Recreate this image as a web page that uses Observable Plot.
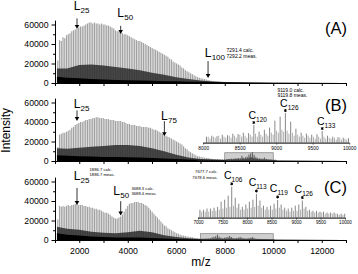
<!DOCTYPE html>
<html><head><meta charset="utf-8">
<script src="https://cdn.jsdelivr.net/npm/d3@7"></script>
<script src="https://cdn.jsdelivr.net/npm/@observablehq/plot@0.6"></script>
<style>
html,body{margin:0;padding:0;background:#fff;}
#chart{position:relative;width:358px;height:274px;overflow:hidden;background:#fff;}
</style></head><body><div id="chart"></div>
<script>
// ---------------- data (intensities in thousands) ----------------
const repeatUnit = 72.06;                 // Da, from the calc. masses of L25 / L50
const refL = {n: 25, mz: 1886.7};         // L-series reference peak
const refC = {n: 126, mz: 9119.0};        // C-series reference peak
const lFirstN = 14;                       // first L peak drawn

const lPeaksA = [23,44,43,47,46,49,50,51,53,54,55,56,57,58,58,59,60,61,62,62,61,62,61,61,60,61,60,60,59,59,58,57,56,54,53,53,52,51,50,50,49,48,47,46,45,44,43,43,42,41,40,39,38,37,36,35,34,33,32,31,30,29,28,27,25,24,22,21,20,19,18,16,15,13,12,11,10,9,8,7,6,5.5,5,4.5,4,3.5,3,2.5,2.2,2,1.8,1.6,1.4,1.2,1.1,1,0.9,0.8,0.7,0.6,0.6,0.5,0.5,0.4,0.4,0.3,0.3];
const lPeaksB = [14,27,28,29,29,30,31,32,34,35,37,38,39,40,40,41,42,42,43,43,44,44,45,45,44,44,44,43,43,43,42,42,42,41,41,41,41,40,40,39,38,38,37,37,37,36,36,36,35,35,35,35,34,34,33,32,32,31,30,29,28,27,26,25,24,23,22,21,20,19,18,17,15,13,12,10,9,8,7,6,5,4.5,4,3.8,3.5,3.2,3,2.6,2.3,2,1.8,1.6,1.4,1.2,1.1,1,0.9,0.8,0.7,0.6,0.6,0.5,0.5,0.4,0.4,0.3,0.3];
const lPeaksC = [21,35,34,35,34,35,36,35,36,36,37,37,36,36,36,35,35,34,34,33,33,32,32,31,31,30,29,28,28,27,26,24,23,22,22,23,24,26,29,32,35,37,38,38,39,39,39,38,38,37,36,35,33,31,29,27,25,23,21,19,17,15,14,12,11,10,9,8,7,6.5,5.5,5,4.5,4,3.7,3.3,3,2.7,2.4,2.1,1.8,1.6,1.4,1.2,1.1,1,0.9,0.8,0.7,0.6,0.6,0.5,0.5,0.4,0.4,0.3,0.3];

const bandMz = [1080,1500,2000,2500,3000,3500,4000,4500,5000,5500,6000,6500,7000,7500,8000,9000,10000,13000];
const darkA  = [15,15,18.5,19,18,16.5,15,13,10.5,8.5,6,4,2.5,1.5,1,0.5,0.3,0];
const blackA = [6.5,5.5,5,4,3.5,3,2.8,2.5,2.2,1.9,1.7,1.4,1.2,1,0.8,0.5,0.3,0.1];
const darkB  = [13,12.5,13.5,14.5,15.5,16.5,16.5,15.5,13,10,6.5,3.5,2,1.5,1,0.8,0.4,0];
const blackB = [6,5.5,5,4.5,4,4,3.8,3.5,3,2.5,2,1.6,1.2,1,0.8,0.6,0.3,0.1];
const darkC  = [13.5,11.5,10.5,8.5,7.5,7,8,9.5,8,5,3,1.8,1,0.8,0.6,0.4,0.3,0];
const blackC = [7,5.5,4.5,3.5,3,2.5,2.5,2.5,2,1.5,1,0.8,0.6,0.5,0.4,0.3,0.2,0.1];

// C series (cyclic) peaks, panel B: n = 95..139 ; minor series n = 111..139
const cFirstNB = 95;
const cPeaksB = [1.2,1.2,1.3,1.3,1.4,1.4,1.5,1.5,1.6,1.6,1.6,1.7,1.7,1.7,1.8,1.8,1.8,2.1,1.95,2.4,2.25,2.7,2.55,3,2.85,5.3,3.3,3.9,4.5,6.6,7.8,8.9,6.3,4.2,3,2.7,2.4,2.55,3.5,2.1,1.8,1.65,1.5,1.35,1.2];
const mFirstNB = 111;
const minor1B = [1.8,1.8,2.1,1.8,2.1,2.1,2.4,2.1,2.4,2.7,2.4,2.7,3,3.6,3.9,3.6,3,2.4,2.1,2.1,1.8,1.8,1.8,1.5,1.5,1.5,1.2,1.2,1.2];
const minor2B = [1.2,1.5,1.2,1.5,1.5,1.5,1.8,1.5,1.8,1.8,1.8,2.1,2.4,3,3.3,2.7,2.1,1.8,1.5,1.5,1.2,1.2,1.2,1.2,0.9,0.9,0.9,0.9,0.9];
// panel C: n = 97..138
const cFirstNC = 97;
const cPeaksC = [1.4,1.4,1.6,1.6,1.75,1.9,2.8,3.15,3.85,5.4,3.5,2.45,1.9,2.3,2.8,3.15,4.15,3,2.1,1.9,2.1,2.45,3.1,2.3,1.75,1.6,1.75,2.1,2.3,3,1.9,1.4,1.2,1.2,1.05,1.05,0.9,0.9,0.9,0.7,0.7,0.7];
const minorC = [1.05,1.05,1.05,1.2,1.2,1.4,1.6,1.75,1.9,2.1,1.75,1.4,1.4,1.6,1.75,1.9,2.1,1.75,1.4,1.4,1.4,1.6,1.75,1.4,1.2,1.05,1.2,1.2,1.4,1.6,1.2,1.05,0.9,0.9,0.9,0.7,0.7,0.7,0.7,0.5,0.5,0.5];

const xTicks = [1000,2000,3000,4000,5000,6000,7000,8000,9000,10000,11000,12000,13000];
const xLabeled = [2000,4000,6000,8000,10000,12000];
const yMajor = [0,20000,40000,60000];
const yMinor = [10000,30000,50000];
const insetTicksB = [8000,8500,9000,9500,10000];
const insetTicksC = [7000,7500,8000,8500,9000,9500,10000];

// ---------------- helpers ----------------
const FONT = '"Liberation Sans", Arial, Helvetica, sans-serif';
const container = document.getElementById("chart");
const lMz = n => refL.mz + (n - refL.n) * repeatUnit;
const cMz = n => refC.mz + (n - refC.n) * repeatUnit;
const K = 1000;

function place(svg, top) {
  svg.style.position = "absolute";
  svg.style.left = "0px";
  svg.style.top = top + "px";
  container.appendChild(svg);
}

const PX = 64000 / 62.4; // intensity per pixel in main panels

function mainPanel(cfg) {
  const peaks = cfg.peaks;
  const lTable = peaks.map((h, i) => ({n: lFirstN + i, mz: lMz(lFirstN + i), h: h * K}));
  const band = bandMz.map((mz, i) => ({mz, dark: cfg.dark[i] * K, black: cfg.black[i] * K}));
  const cyc = [];
  (cfg.cyc || []).forEach(s => s.values.forEach((v, i) => cyc.push({mz: cMz(s.first + i) + s.offset, h: v * K})));
  const ann = cfg.annots.map(a => {
    const h = peaks[a.n - lFirstN] * K;
    return {...a, mz: lMz(a.n), yTip: h + (a.tip + 1.2) * PX, yTop: h + a.top * PX, yHead: h + (a.tip + 1.2) * PX, yText: h + a.text * PX, ySub: h + (a.text - 3) * PX,
      notes: (a.notes || []).map((t, j) => ({t, mz: lMz(a.n), y: h + a.noteY[j] * PX}))};
  });
  const notes = ann.flatMap(a => a.notes.map(d => ({...d, dx: a.noteDx, size: a.noteSize})));
  const marks = [
    cfg.box ? Plot.rect([cfg.box], {x1: "x1", x2: "x2", y1: 0, y2: d => d.top * K, fill: "#cfcfcf", stroke: "#8c8c8c", strokeWidth: 0.8}) : null,
    Plot.ruleX(lTable, {x: "mz", y1: 0, y2: "h", stroke: "#a2a2a2", strokeWidth: 1.2}),
    Plot.areaY(band, {x: "mz", y: "dark", fill: "#262626", fillOpacity: 0.82}),
    Plot.areaY(band, {x: "mz", y: "black", fill: "#000"}),
    Plot.ruleX(cyc, {x: "mz", y1: 0, y2: "h", stroke: "#3a3a3a", strokeWidth: 0.8}),
    Plot.ruleY([0], {stroke: "#000", strokeWidth: 1}),
    Plot.ruleX([1000], {stroke: "#000", strokeWidth: 1}),
    Plot.axisY({ticks: yMajor, tickSize: 3.5, tickPadding: 3.5, fontSize: 8.7, tickFormat: d => String(d), label: null}),
    Plot.axisY({ticks: yMinor, tickSize: 2, tickFormat: () => "", label: null}),
    Plot.axisX({ticks: xTicks, tickSize: 3, tickPadding: 4.5, fontSize: 8.7, label: null,
      tickFormat: cfg.showX ? (d => xLabeled.includes(d) ? String(d) : "") : () => ""}),
    // arrows
    Plot.ruleX(ann, {x: "mz", y1: "yTip", y2: "yTop", stroke: "#000", strokeWidth: 0.8}),
    Plot.dot(ann, {x: "mz", y: "yHead", symbol: "triangle", rotate: 180, r: 1.7, fill: "#000", stroke: "none"}),
    ...ann.map(a => Plot.text([a], {x: "mz", y: "yText", text: () => "L", fontSize: 12, textAnchor: "middle", lineAnchor: "bottom", dx: a.ldx || 0})),
    ...ann.map(a => Plot.text([a], {x: "mz", y: "ySub", text: "label", fontSize: 8, textAnchor: "start", lineAnchor: "bottom", dx: 3.6 + (a.ldx || 0)})),
    ...notes.map(d => Plot.text([d], {x: "mz", y: "y", text: "t", fontSize: d.size, textAnchor: "start", lineAnchor: "bottom", dx: d.dx})),
    Plot.text([cfg.tag], {frameAnchor: "top-right", textAnchor: "end", lineAnchor: "bottom", dy: cfg.tagDy, dx: 0.5, fontSize: 16.5}),
    ...(cfg.extra || [])
  ];
  const svg = Plot.plot({
    width: 358, height: cfg.height,
    marginLeft: 55, marginRight: 12, marginTop: 20.6, marginBottom: cfg.mb,
    x: {domain: [1000, 13000], axis: null, label: null},
    y: {domain: [0, 64000], axis: null, label: null},
    style: {background: "transparent", overflow: "visible", fontFamily: FONT, color: "#000"},
    marks
  });
  place(svg, cfg.top);
}

function inset(cfg) {
  const inRange = d => d.mz >= cfg.domain[0] && d.mz <= cfg.domain[1];
  const series = [];
  cfg.minors.forEach(s => s.values.forEach((v, i) => series.push({mz: cMz(s.first + i) + s.offset, h: v * K})));
  const minors = series.filter(inRange);
  const main = cfg.values.map((v, i) => ({n: cfg.first + i, mz: cMz(cfg.first + i), h: v * K})).filter(inRange);
  const marked = main.filter(d => cfg.marked.includes(d.n)).map(d => ({...d, sub: String(d.n)}));
  const U = cfg.unitPerPx;
  const lab = marked.map(d => ({...d, yStar: d.h + cfg.starDy * U, yC: d.h + cfg.labelDy * U, ySub: d.h + (cfg.labelDy - 3) * U}));
  const noteBase = main.find(d => d.n === cfg.note.n);
  const noteRows = cfg.note.lines.map((t, j) => ({t, mz: noteBase.mz, y: noteBase.h + cfg.note.ys[j] * U}));
  const H = cfg.height - cfg.mb;
  const svg = Plot.plot({
    width: 358, height: cfg.height,
    marginLeft: cfg.ml, marginRight: cfg.mr, marginTop: 0, marginBottom: cfg.mb,
    x: {domain: cfg.domain, axis: null, label: null},
    y: {domain: [0, H * U], axis: null, label: null},
    style: {background: "transparent", overflow: "visible", fontFamily: FONT, color: "#000"},
    marks: [
      Plot.ruleX(minors, {x: "mz", y1: 0, y2: "h", stroke: "#9a9a9a", strokeWidth: 0.8}),
      Plot.ruleX(main, {x: "mz", y1: 0, y2: "h", stroke: "#7a7a7a", strokeWidth: 0.9}),
      Plot.ruleY([0], {stroke: "#333", strokeWidth: 1.2}),
      Plot.axisX({ticks: cfg.ticks, tickSize: 1.8, tickPadding: 1.2, fontSize: cfg.tickFont, tickFormat: d => String(d), label: null, stroke: "#444"}),
      Plot.dot(lab, {x: "mz", y: "yStar", symbol: "asterisk", r: 1.4, stroke: "#000", strokeWidth: 1}),
      Plot.text(lab, {x: "mz", y: "yC", text: () => "C", fontSize: 10.5, textAnchor: "middle", lineAnchor: "bottom", dx: cfg.labelDx}),
      Plot.text(lab, {x: "mz", y: "ySub", text: "sub", fontSize: 6.5, textAnchor: "start", lineAnchor: "bottom", dx: cfg.labelDx + 3.8}),
      Plot.text(noteRows, {x: "mz", y: "y", text: "t", fontSize: cfg.note.size, textAnchor: cfg.note.anchor, lineAnchor: "bottom", dx: cfg.note.dx})
    ]
  });
  place(svg, cfg.top);
}

// ---------------- panels ----------------
mainPanel({
  peaks: lPeaksA, dark: darkA, black: blackA, top: 0, height: 95, mb: 12, tag: "(A)", tagDy: 12.4,
  annots: [
    {n: 25, label: "25", tip: 1.5, top: 10, text: 18.5},
    {n: 50, label: "50", tip: 0.3, top: 6.5, text: 16},
    {n: 100, label: "100", tip: 4, top: 19, text: 24, notes: ["7291.4 calc.", "7292.2 meas."], noteDx: 18.5, noteY: [29, 22.3], noteSize: 5}
  ]
});
mainPanel({
  peaks: lPeaksB, dark: darkB, black: blackB, top: 78.3, height: 95, mb: 12, tag: "(B)", tagDy: 11.5,
  box: {x1: 8000, x2: 10000, top: 8.5},
  cyc: [{first: cFirstNB, values: cPeaksB, offset: 0}, {first: mFirstNB, values: minor1B, offset: 24}, {first: mFirstNB, values: minor2B, offset: 48}],
  annots: [
    {n: 25, label: "25", tip: 5, top: 13.5, text: 16.5},
    {n: 75, label: "75", tip: 0.5, top: 13.5, text: 15.5}
  ],
  extra: [Plot.text(["Intensity"], {frameAnchor: "left", rotate: -90, dx: -49, fontSize: 12, textAnchor: "middle", lineAnchor: "middle"})]
});
mainPanel({
  peaks: lPeaksC, dark: darkC, black: blackC, top: 157.3, height: 117, mb: 34, tag: "(C)", tagDy: 15.1, showX: true,
  box: {x1: 7000, x2: 10000, top: 6.5},
  cyc: [{first: cFirstNC, values: cPeaksC, offset: 0}, {first: cFirstNC, values: minorC, offset: 36}],
  annots: [
    {n: 25, label: "25", tip: 0.8, top: 16, text: 24.5, notes: ["1886.7 calc.", "1886.7 meas."], noteDx: 12.5, noteY: [33, 28], noteSize: 4.2},
    {n: 50, label: "50", tip: 3, top: 15.4, text: 22, ldx: -4, notes: ["3688.3 calc.", "3688.4 meas."], noteDx: 10.7, noteY: [27.5, 21.8], noteSize: 4.2}
  ],
  extra: [Plot.text(["m/z"], {frameAnchor: "bottom", dy: 25.7, fontSize: 12, textAnchor: "middle", lineAnchor: "bottom"})]
});

inset({
  top: 80, height: 72, mb: 9.3, ml: 203.2, mr: 8.8, domain: [8000, 10000], unitPerPx: 300,
  ticks: insetTicksB, tickFont: 4.8,
  first: cFirstNB, values: cPeaksB,
  minors: [{first: mFirstNB, values: minor1B, offset: 24}, {first: mFirstNB, values: minor2B, offset: 48}],
  marked: [120, 126, 133], starDy: 3, labelDy: 7, labelDx: -1.5,
  note: {n: 126, lines: ["9119.0 calc.", "9119.8 meas."], dx: -8, ys: [22, 17], size: 5, anchor: "start"}
});
inset({
  top: 165, height: 62, mb: 9.3, ml: 198, mr: 13, domain: [7000, 10000], unitPerPx: 175,
  ticks: insetTicksC, tickFont: 4.6,
  first: cFirstNC, values: cPeaksC,
  minors: [{first: cFirstNC, values: minorC, offset: 36}],
  marked: [106, 113, 119, 126], starDy: 3.5, labelDy: 8.5, labelDx: -4,
  note: {n: 106, lines: ["7677.7 calc.", "7678.6 meas."], dx: -14, ys: [14, 8.7], size: 4.2, anchor: "end"}
});
</script></body></html>
